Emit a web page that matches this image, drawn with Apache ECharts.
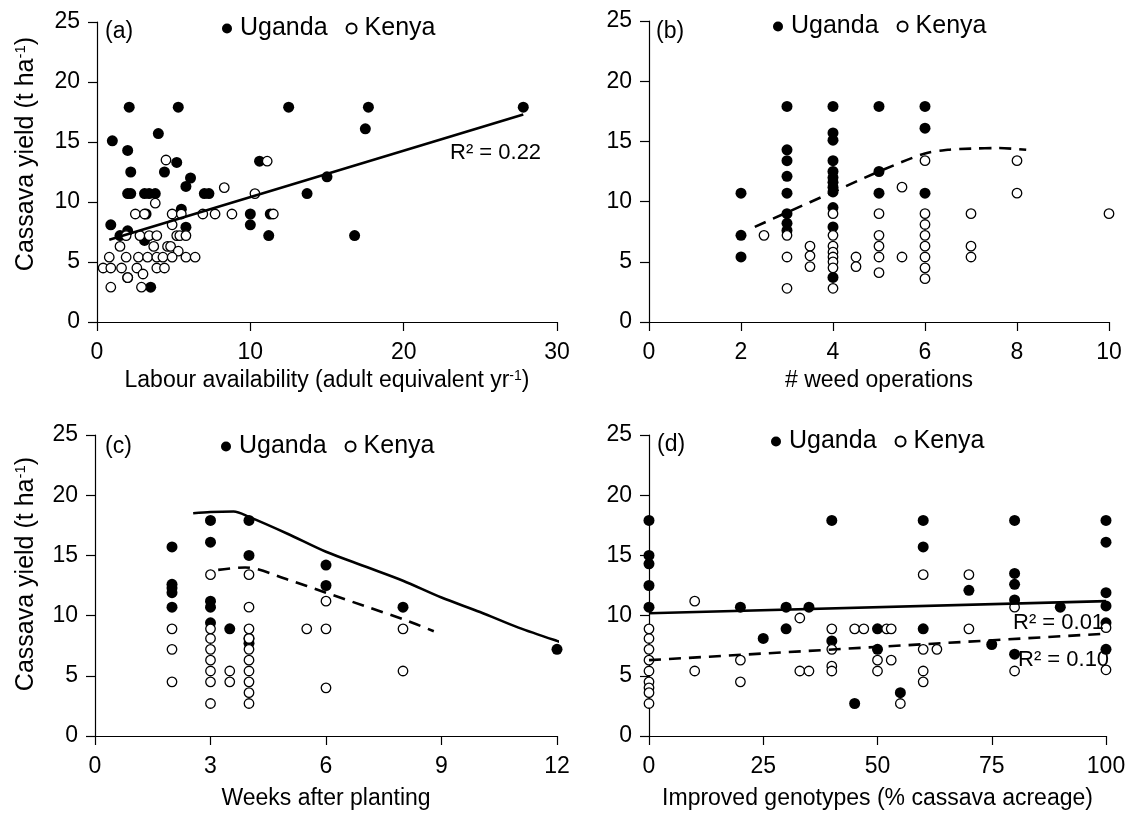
<!DOCTYPE html>
<html>
<head>
<meta charset="utf-8">
<script src="https://cdn.jsdelivr.net/npm/echarts@6/dist/echarts.min.js"></script>
<style>html,body{margin:0;padding:0;background:#fff;}#c{width:1134px;height:816px;}</style>
</head>
<body>
<div id="c"></div>
<script>
// ---------- DATA ----------
// (a) Labour availability vs yield
const aUganda = [[2.1,17.9],[5.3,17.9],[12.5,17.9],[17.7,17.9],[27.8,17.9],[17.5,16.1],[4.0,15.7],[1.0,15.1],[2.0,14.3],
  [5.2,13.3],[10.6,13.4],[2.2,12.5],[4.4,12.5],[6.1,12.0],[15.0,12.1],[5.8,11.3],
  [2.0,10.7],[2.2,10.7],[3.1,10.7],[3.4,10.7],[3.8,10.7],[7.0,10.7],[7.3,10.7],[13.7,10.7],
  [5.5,9.4],[10.0,9.0],[11.3,9.0],[3.2,9.0],[10.0,8.1],[0.9,8.1],[5.8,7.9],[2.0,7.6],[1.5,7.2],
  [11.2,7.2],[16.8,7.2],[3.1,6.8],[2.0,3.7],[3.5,2.9]];
const aKenya = [[4.5,13.5],[11.1,13.4],[8.3,11.2],[10.3,10.7],[3.8,9.9],
  [2.5,9.0],[3.1,9.0],[4.9,9.0],[5.5,9.0],[6.9,9.0],[7.7,9.0],[8.8,9.0],[11.5,9.0],[4.9,8.1],
  [1.9,7.2],[2.8,7.2],[3.4,7.2],[3.9,7.2],[5.2,7.2],[5.4,7.2],[5.8,7.2],
  [1.5,6.3],[3.7,6.3],[4.6,6.3],[4.8,6.3],[5.3,5.9],
  [0.8,5.4],[1.9,5.4],[2.7,5.4],[3.3,5.4],[3.9,5.4],[4.3,5.4],[4.9,5.4],[5.8,5.4],[6.4,5.4],
  [0.4,4.5],[0.9,4.5],[1.6,4.5],[2.6,4.5],[3.9,4.5],[4.4,4.5],
  [3.0,4.0],[2.0,3.7],[0.9,2.9],[2.9,2.9]];
const aTrend = [[0.8,6.86],[27.8,17.3]];
// (b) weed operations
const bUganda = [[2,10.7],[2,7.2],[2,5.4],
  [3,17.9],[3,14.3],[3,13.4],[3,12.1],[3,10.7],[3,9.0],[3,8.2],[3,7.6],
  [4,17.9],[4,15.7],[4,15.1],[4,13.4],[4,12.5],[4,12.0],[4,11.6],[4,11.2],[4,10.8],[4,9.5],[4,7.9],[4,3.7],
  [5,17.9],[5,12.5],[5,10.7],[6,17.9],[6,16.1],[6,10.7]];
const bKenya = [[2.5,7.2],[3,7.2],[3,5.4],[3,2.8],[3.5,6.3],[3.5,5.5],[3.5,4.6],
  [4,9.0],[4,7.2],[4,6.3],[4,5.8],[4,5.4],[4,5.0],[4,4.5],[4,2.8],[4.5,5.4],[4.5,4.6],
  [5,9.0],[5,7.2],[5,6.3],[5,5.4],[5,4.1],[5.5,11.2],[5.5,5.4],
  [6,13.4],[6,9.0],[6,8.1],[6,7.2],[6,6.3],[6,5.4],[6,4.5],[6,3.6],
  [7,9.0],[7,6.3],[7,5.4],[8,13.4],[8,10.7],[10,9.0]];
const bCurve = [[2.3,7.9],[3,9.1],[4,10.8],[5,12.5],[6,14.0],[6.5,14.3],[7,14.4],[7.6,14.45],[8.2,14.3]];
// (c) weeks after planting
const cUganda = [[2,15.7],[2,12.6],[2,12.3],[2,11.9],[2,10.7],[3,17.9],[3,16.1],[3,11.2],[3,10.7],[3,9.4],
  [3.5,8.9],[4,17.9],[4,15.0],[4,8.1],[4,7.7],[6,14.2],[6,12.5],[8,10.7],[12,7.2]];
const cKenya = [[2,8.9],[2,7.2],[2,4.5],[3,13.4],[3,8.9],[3,8.1],[3,7.2],[3,6.3],[3,5.4],[3,4.5],[3,2.7],
  [3.5,5.4],[3.5,4.5],[4,13.4],[4,10.7],[4,8.9],[4,8.1],[4,7.2],[4,6.3],[4,5.4],[4,4.5],[4,3.6],[4,2.7],
  [5.5,8.9],[6,11.2],[6,8.9],[6,4.0],[8,8.9],[8,5.4]];
const cCurveUganda = [[2.55,18.5],[3.0,18.6],[3.6,18.64],[4.0,18.2],[5,16.8],[6,15.3],[7,14.1],[8,12.9],[9,11.5],[10,10.3],[11,9.0],[12,7.9],[12.6,7.3]];
const cCurveKenya = [[3.2,13.8],[3.9,14.0],[5,13.0],[6,11.9],[7,10.8],[8,9.7],[8.8,8.7]];
// (d) improved genotypes
const dUganda = [[0,17.9],[0,15.0],[0,14.3],[0,12.5],[0,10.7],[20,10.7],[25,8.1],[30,10.7],[30,8.9],[35,10.7],
  [40,17.9],[40,7.9],[45,2.7],[50,8.9],[50,7.2],[55,3.6],[60,17.9],[60,15.7],[60,8.9],[70,12.1],[75,7.6],
  [80,17.9],[80,13.5],[80,12.6],[80,11.3],[80,6.8],[90,10.7],[100,17.9],[100,16.1],[100,11.9],[100,10.8],[100,9.4],[100,7.2]];
const dKenya = [[0,8.9],[0,8.1],[0,7.2],[0,6.3],[0,5.4],[0,4.5],[0,4.0],[0,3.6],[0,2.7],[10,11.2],[10,5.4],
  [20,6.3],[20,4.5],[33,9.8],[33,5.4],[35,5.4],[40,8.9],[40,7.2],[40,5.8],[40,5.4],[45,8.9],[47,8.9],
  [50,6.3],[50,5.4],[52,8.9],[53,8.9],[53,6.3],[55,2.7],[60,13.4],[60,7.2],[60,5.4],[60,4.5],[63,7.2],
  [70,13.4],[70,8.9],[80,10.7],[80,5.4],[100,9.0],[100,5.5]];
const dTrendUganda = [[0,10.2],[100,11.2]];
const dTrendKenya = [[0,6.3],[100,8.5]];
// axis ranges / labels
const xRanges = [{min:0,max:30,interval:10},{min:0,max:10,interval:2},{min:0,max:12,interval:3},{min:0,max:100,interval:25}];
const yRange = {min:0,max:25,interval:5};
const xTitles = ['Labour availability (adult equivalent yr{sup|-1})','# weed operations','Weeks after planting','Improved genotypes (% cassava acreage)'];
const panelTags = ['(a)','(b)','(c)','(d)'];
const legendNames = ['Uganda','Kenya'];

// ---------- CHART ----------
const FONT = '"Liberation Sans", Arial, sans-serif';
const grids = [
  {left:97, top:22, width:460, height:300},
  {left:649, top:21, width:460, height:301},
  {left:95, top:435, width:462, height:301},
  {left:649, top:435, width:457, height:301}
];
const nameGaps = [47, 47, 51, 51];
const axisCommon = {
  axisLine:{show:true, onZero:false, lineStyle:{color:'#000', width:1.2}},
  axisTick:{show:true, length:9, lineStyle:{color:'#000', width:1.2}},
  splitLine:{show:false},
  axisLabel:{color:'#000', fontSize:23, fontFamily:FONT}
};
const xAxes = xRanges.map((r,i)=>Object.assign({}, axisCommon, {
  type:'value', gridIndex:i, min:r.min, max:r.max, interval:r.interval,
  axisLabel:Object.assign({}, axisCommon.axisLabel, {margin:19}),
  name:xTitles[i], nameLocation:'middle', nameGap:nameGaps[i],
  nameTextStyle:{color:'#000', fontSize:23, fontFamily:FONT, verticalAlign:'top', rich:{sup:{fontSize:14, verticalAlign:'top', color:'#000', fontFamily:FONT, padding:[0,0,10,0]}}}
}));
const yAxes = grids.map((g,i)=>Object.assign({}, axisCommon, {
  type:'value', gridIndex:i, min:yRange.min, max:yRange.max, interval:yRange.interval,
  axisLabel:Object.assign({}, axisCommon.axisLabel, {margin:17})
}));
const fillU = {color:'#000', opacity:1};
const fillK = {color:'#fff', borderColor:'#000', borderWidth:1.3, opacity:1};
function sc(name, data, i, style, size){
  return {type:'scatter', name:name, xAxisIndex:i, yAxisIndex:i, data:data, symbol:'circle', symbolSize:size, itemStyle:style, z:3, emphasis:{disabled:true}};
}
function ln(data, i, dashed, smooth){
  return {type:'line', xAxisIndex:i, yAxisIndex:i, data:data, showSymbol:false, symbol:'none', smooth:smooth||false, clip:false,
    lineStyle:{color:'#000', width:2.6, type: dashed ? [12,8] : 'solid'}, z:4, silent:true};
}
const series = [
  sc('Uganda', aUganda, 0, fillU, 11), sc('Kenya', aKenya, 0, fillK, 9.5), ln(aTrend, 0, false),
  sc('Uganda', bUganda, 1, fillU, 11), sc('Kenya', bKenya, 1, fillK, 9.5), ln(bCurve, 1, true, 0.3),
  sc('Uganda', cUganda, 2, fillU, 11), sc('Kenya', cKenya, 2, fillK, 9.5), ln(cCurveUganda, 2, false, 0.3), ln(cCurveKenya, 2, true, 0.3),
  sc('Uganda', dUganda, 3, fillU, 11), sc('Kenya', dKenya, 3, fillK, 9.5), ln(dTrendUganda, 3, false), ln(dTrendKenya, 3, true)
];
const legendPos = [{left:222, top:16},{left:773, top:14},{left:221, top:434},{left:771, top:429}];
const legends = legendPos.map(p=>({
  left:p.left, top:p.top, data:legendNames, icon:'circle', itemWidth:10, itemHeight:10, itemGap:18,
  selectedMode:false, padding:0,
  textStyle:{color:'#000', fontSize:25, fontFamily:FONT, padding:[16,0,0,3]}
}));
const tagPos = [[105,20],[656,20],[105,435],[657,433]];
const graphic = [];
tagPos.forEach((p,i)=>graphic.push({type:'text', left:p[0], top:p[1], style:{text:panelTags[i], font:'23px '+FONT, fill:'#000'}}));
[[26,154],[26,574]].forEach(p=>graphic.push({type:'text', x:p[0], y:p[1], rotation:Math.PI/2,
  style:{text:'Cassava yield (t ha{sup|-1})', fill:'#000', font:'25px '+FONT, align:'center', verticalAlign:'middle',
    rich:{sup:{fontSize:15, fill:'#000', fontFamily:FONT, verticalAlign:'top', padding:[0,0,10,0]}}}}));
[['R² = 0.22',450,153],['R² = 0.01',1013,623],['R² = 0.10',1018,660]].forEach(t=>graphic.push({type:'text', x:t[1], y:t[2], z:10,
  style:{text:t[0], fill:'#000', font:'22px '+FONT, align:'left', verticalAlign:'middle'}}));

const chart = echarts.init(document.getElementById('c'), null, {renderer:'canvas'});
chart.setOption({
  backgroundColor:'#fff', animation:false,
  textStyle:{fontFamily:FONT},
  grid:grids, xAxis:xAxes, yAxis:yAxes, series:series, legend:legends, graphic:graphic
});
</script>
</body>
</html>
